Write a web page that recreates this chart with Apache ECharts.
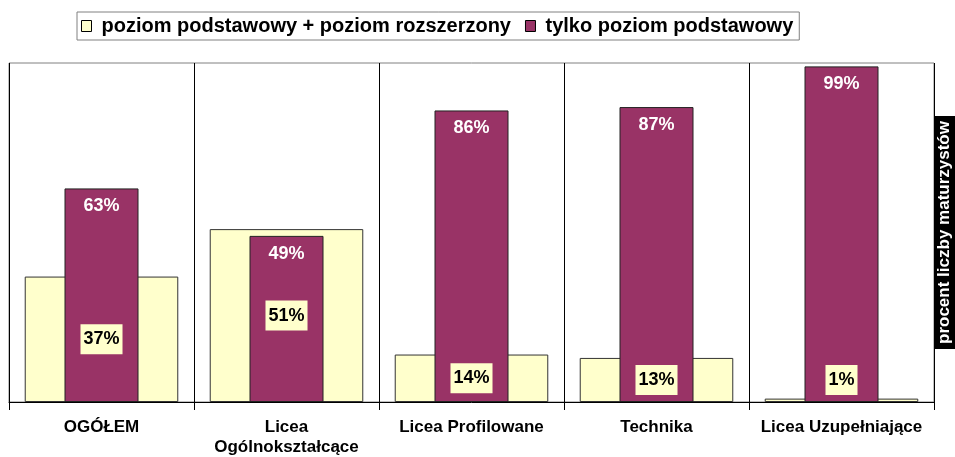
<!DOCTYPE html>
<html>
<head>
<meta charset="utf-8">
<title>Matura - poziom egzaminu</title>
<script src="https://cdn.jsdelivr.net/npm/echarts@6/dist/echarts.min.js"></script>
<style>
  html, body { margin: 0; padding: 0; background: #fff; }
  #chart { width: 955px; height: 457px; }
</style>
</head>
<body>
<div id="chart"></div>
<script>
// kategorie szkół
const categories = ['OGÓŁEM', 'Licea\nOgólnokształcące', 'Licea Profilowane', 'Technika', 'Licea Uzupełniające'];
// poziom podstawowy + poziom rozszerzony (%)
const bothLevels = [37, 51, 14, 13, 1];
// tylko poziom podstawowy (%)
const basicOnly = [63, 49, 86, 87, 99];
const seriesNames = ['poziom podstawowy + poziom rozszerzony', 'tylko poziom podstawowy'];
const axisTitle = 'procent liczby maturzystów';

const FONT = "'Liberation Sans', Arial, sans-serif";

const chart = echarts.init(document.getElementById('chart'), null, { renderer: 'canvas' });

// niskie słupki - etykieta nie może wyjść poza oś
const yellowData = bothLevels.map(v => v < 5
    ? { value: v, label: { position: 'insideBottom', distance: 7 } }
    : v);

const option = {
    animation: false,
    backgroundColor: '#ffffff',
    textStyle: { fontFamily: FONT },
    legend: {
        data: seriesNames,
        icon: 'rect',
        left: 77,
        top: 12,
        padding: [4, 6, 4, 4],
        itemWidth: 10,
        itemHeight: 11,
        itemGap: 14,
        borderColor: '#808080',
        borderWidth: 1,
        itemStyle: { borderColor: '#000', borderWidth: 1 },
        textStyle: { fontSize: 20, fontWeight: 'bold', color: '#000', fontFamily: FONT, padding: [0, 0, 0, 5] }
    },
    grid: {
        left: 9, right: 21, top: 63, bottom: 55,
        outerBoundsMode: 'none',
        containLabel: false,
        show: true,
        borderColor: '#808080',
        borderWidth: 1
    },
    xAxis: [
        {
            type: 'category',
            data: categories,
            axisLine: { lineStyle: { color: '#000', width: 1 } },
            axisTick: { show: true, length: 8, lineStyle: { color: '#000' } },
            splitLine: { show: true, lineStyle: { color: '#000', width: 1 } },
            axisLabel: {
                color: '#000', fontSize: 17, fontWeight: 'bold', fontFamily: FONT,
                margin: 15, lineHeight: 20, interval: 0
            }
        },
        {
            type: 'category',
            data: categories,
            show: false
        }
    ],
    yAxis: {
        type: 'value',
        min: 0,
        max: 100,
        position: 'right',
        axisLine: { show: false },
        axisTick: { show: false },
        axisLabel: { show: false },
        splitLine: { show: false },
        name: axisTitle,
        nameLocation: 'middle',
        nameRotate: 90,
        nameGap: 0,
        nameTextStyle: {
            color: '#fff', backgroundColor: '#000', fontSize: 17, fontWeight: 'bold',
            fontFamily: FONT, padding: [2, 5]
        }
    },
    series: [
        {
            name: seriesNames[0],
            type: 'bar',
            xAxisIndex: 0,
            barWidth: '83%',
            data: yellowData,
            itemStyle: { color: '#FFFFCC', borderColor: '#333333', borderWidth: 1 },
            label: {
                show: true,
                position: 'inside',
                formatter: '{c}%',
                color: '#000',
                fontSize: 18,
                fontWeight: 'bold',
                fontFamily: FONT,
                backgroundColor: '#FFFFCC',
                padding: [6, 3],
                lineHeight: 18
            }
        },
        {
            name: seriesNames[1],
            type: 'bar',
            xAxisIndex: 1,
            barWidth: '40%',
            data: basicOnly,
            itemStyle: { color: '#993366', borderColor: '#222222', borderWidth: 1 },
            label: {
                show: true,
                position: 'insideTop',
                distance: 9,
                formatter: '{c}%',
                color: '#fff',
                fontSize: 18,
                fontWeight: 'bold',
                fontFamily: FONT
            }
        }
    ]
};

chart.setOption(option);
</script>
</body>
</html>
